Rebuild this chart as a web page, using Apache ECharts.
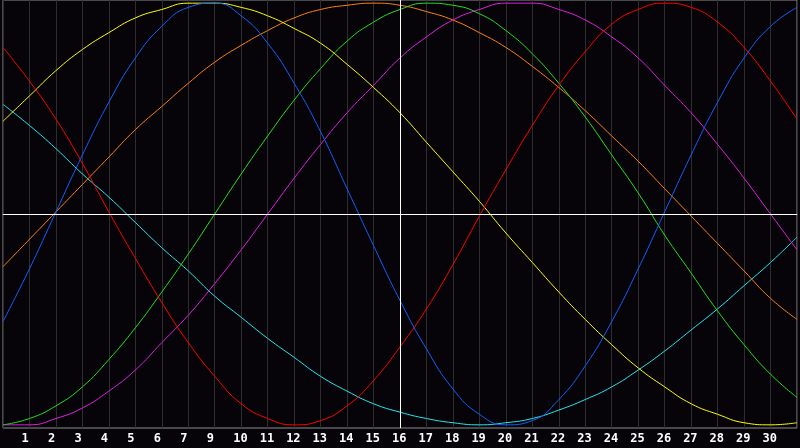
<!DOCTYPE html>
<html>
<head>
<meta charset="utf-8">
<script src="https://cdn.jsdelivr.net/npm/echarts@6/dist/echarts.min.js"></script>
<style>
    html, body { margin: 0; padding: 0; background: #060409; }
    #biorhythm { width: 800px; height: 448px; }
</style>
</head>
<body>
<div id="biorhythm"></div>
<script>
// day labels under the vertical lines (index 0 and 30 sit on the frame edges)
var dayLabels = ['', '1', '2', '3', '4', '5', '6', '7', '9', '10', '11', '12', '13', '14', '15',
    '16', '17', '18', '19', '20', '21', '22', '23', '24', '25', '26', '27', '28', '29', '30', ''];

// values, -1 .. 1, one per day line
var red = [0.79, 0.63, 0.45, 0.24, 0.01, -0.21, -0.42, -0.61, -0.77, -0.90, -0.97, -1.00, -0.98, -0.91, -0.79, -0.63,
    -0.45, -0.24, -0.01, 0.21, 0.42, 0.61, 0.77, 0.90, 0.97, 1.00, 0.98, 0.91, 0.79, 0.63, 0.45];
var blue = [-0.51, -0.26, 0.01, 0.28, 0.53, 0.74, 0.89, 0.98, 1.00, 0.94, 0.81, 0.62, 0.39, 0.12, -0.15, -0.41,
    -0.64, -0.83, -0.95, -1.00, -0.98, -0.88, -0.72, -0.51, -0.26, 0.01, 0.28, 0.53, 0.74, 0.89, 0.98];
var green = [-1.00, -0.97, -0.91, -0.82, -0.69, -0.54, -0.37, -0.19, 0.00, 0.19, 0.37, 0.54, 0.69, 0.82, 0.91, 0.97,
    1.00, 0.99, 0.95, 0.87, 0.76, 0.62, 0.46, 0.28, 0.10, -0.10, -0.28, -0.46, -0.62, -0.76, -0.87];
var magenta = [-1.00, -1.00, -0.97, -0.92, -0.84, -0.74, -0.61, -0.48, -0.33, -0.17, 0.00, 0.17, 0.33, 0.48, 0.61, 0.74,
    0.84, 0.92, 0.97, 1.00, 1.00, 0.97, 0.92, 0.84, 0.74, 0.61, 0.48, 0.33, 0.17, 0.00, -0.17];
var yellow = [0.44, 0.56, 0.68, 0.78, 0.86, 0.93, 0.97, 1.00, 1.00, 0.98, 0.94, 0.88, 0.81, 0.71, 0.60, 0.48,
    0.34, 0.20, 0.06, -0.09, -0.23, -0.37, -0.50, -0.62, -0.73, -0.82, -0.90, -0.95, -0.99, -1.00, -0.99];
var orange = [-0.25, -0.12, 0.01, 0.14, 0.27, 0.40, 0.51, 0.62, 0.72, 0.80, 0.87, 0.93, 0.97, 0.99, 1.00, 0.99,
    0.96, 0.92, 0.86, 0.79, 0.70, 0.60, 0.49, 0.37, 0.25, 0.12, -0.01, -0.14, -0.27, -0.40, -0.50];
var cyan = [0.52, 0.42, 0.31, 0.19, 0.08, -0.04, -0.16, -0.27, -0.39, -0.49, -0.59, -0.68, -0.77, -0.84, -0.90, -0.94,
    -0.97, -0.99, -1.00, -0.99, -0.97, -0.93, -0.88, -0.82, -0.74, -0.65, -0.55, -0.45, -0.34, -0.23, -0.11];

var todayIndex = 15; // white vertical line, label "16"

var myChart = echarts.init(document.getElementById('biorhythm'));

function curve(name, data, color) {
    return {
        name: name,
        type: 'line',
        data: data,
        smooth: true,
        symbol: 'none',
        silent: true,
        animation: false,
        lineStyle: { color: color, width: 1 }
    };
}

var series = [
    curve('cyan', cyan, '#20e8f0'),
    curve('orange', orange, '#ff8010'),
    curve('magenta', magenta, '#e020e0'),
    curve('green', green, '#20e020'),
    curve('yellow', yellow, '#ffff00'),
    curve('red', red, '#ff0000'),
    curve('blue', blue, '#1060ff')
];

// white cross: zero line and today line
series.push({
    type: 'line',
    data: [],
    silent: true,
    animation: false,
    markLine: {
        silent: true,
        symbol: 'none',
        animation: false,
        label: { show: false },
        lineStyle: { color: '#ffffff', width: 1, type: 'solid' },
        data: [{ yAxis: 0 }, { xAxis: todayIndex }]
    }
});

var option = {
    backgroundColor: '#060409',
    animation: false,
    grid: {
        left: 0,
        right: 0,
        top: 0,
        bottom: 20,
        show: true,
        borderColor: '#8c8c8c',
        borderWidth: 1,
        backgroundColor: 'transparent'
    },
    xAxis: {
        type: 'category',
        boundaryGap: false,
        data: dayLabels,
        axisLine: { show: true, lineStyle: { color: '#a0a0a0', width: 1 } },
        axisTick: { show: false },
        axisLabel: {
            interval: 0,
            color: '#ffffff',
            fontFamily: 'DejaVu Sans Mono',
            fontWeight: 'bold',
            fontSize: 12,
            align: 'left',
            padding: [0, 0, 0, -8],
            margin: 5
        },
        splitLine: { show: true, interval: 0, lineStyle: { color: '#2e2e2e', width: 1 } }
    },
    yAxis: {
        type: 'value',
        min: -1.015,
        max: 1.015,
        show: false,
        splitLine: { show: false }
    },
    series: series
};

myChart.setOption(option);
</script>
</body>
</html>
